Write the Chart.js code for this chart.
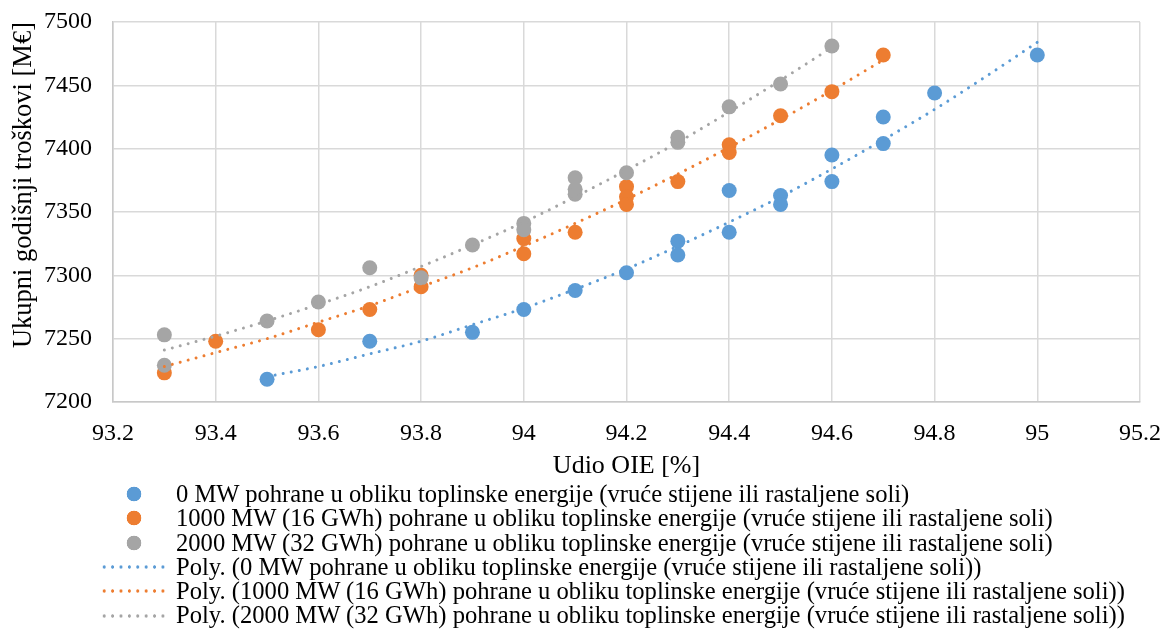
<!DOCTYPE html>
<html>
<head>
<meta charset="utf-8">
<script src="https://cdn.jsdelivr.net/npm/chart.js@4"></script>
<style>
  body { margin: 0; background: #fff; }
  #wrap { position: relative; width: 1164px; height: 629px; font-family: 'Liberation Serif', 'Times New Roman', serif; }
  #box { position: absolute; left: 0; top: 0; width: 1164px; height: 482px; }
  #legend { position: absolute; left: 100px; top: 482px; list-style: none; margin: 0; padding: 0; font-size: 24.6px; line-height: 24.3px; color: #000; }
  #legend li { display: flex; align-items: center; white-space: nowrap; height: 24.3px; }
  #legend .mk { display: inline-block; width: 68px; height: 24.3px; margin-right: 8px; }
</style>
</head>
<body>
<div id="wrap">
  <div id="box"><canvas id="chart"></canvas></div>
  <ul id="legend"></ul>
</div>
<script>
// scatter points
let blueX = [93.5, 93.7, 93.9, 94.0, 94.1, 94.2, 94.3, 94.3, 94.4, 94.4, 94.5, 94.5, 94.6, 94.6, 94.7, 94.7, 94.8, 95.0];
let blueY = [7218, 7248, 7255, 7273, 7288, 7302, 7327, 7316, 7367, 7334, 7363, 7356, 7395, 7374, 7425, 7404, 7444, 7474];

let orangeX = [93.3, 93.4, 93.6, 93.7, 93.8, 93.8, 94.0, 94.0, 94.1, 94.2, 94.2, 94.2, 94.3, 94.4, 94.4, 94.5, 94.6, 94.7];
let orangeY = [7223, 7248, 7257, 7273, 7300, 7291, 7329, 7317, 7334, 7370, 7362, 7356, 7374, 7403, 7397, 7426, 7445, 7474];

let grayX = [93.3, 93.3, 93.5, 93.6, 93.7, 93.8, 93.9, 94.0, 94.0, 94.1, 94.1, 94.1, 94.2, 94.3, 94.3, 94.4, 94.5, 94.6];
let grayY = [7253, 7229, 7264, 7279, 7306, 7298, 7324, 7341, 7336, 7377, 7368, 7364, 7381, 7409, 7405, 7433, 7451, 7481];

// dotted poly trendlines
let blueTrendX = [93.5, 93.6, 93.7, 93.8, 93.9, 94.0, 94.1, 94.2, 94.3, 94.4, 94.5, 94.6, 94.7, 94.8, 94.9, 95.0];
let blueTrendY = [7220, 7228, 7238, 7248, 7261, 7274, 7289, 7305, 7323, 7342, 7362, 7384, 7407, 7431, 7457, 7484];

let orangeTrendX = [93.3, 93.4, 93.5, 93.6, 93.7, 93.8, 93.9, 94.0, 94.1, 94.2, 94.3, 94.4, 94.5, 94.6, 94.7];
let orangeTrendY = [7228, 7239, 7250, 7263, 7276, 7291, 7306, 7323, 7341, 7360, 7380, 7401, 7423, 7446, 7470];

let grayTrendX = [93.3, 93.4, 93.5, 93.6, 93.7, 93.8, 93.9, 94.0, 94.1, 94.2, 94.3, 94.4, 94.5, 94.6];
let grayTrendY = [7241, 7252, 7264, 7277, 7291, 7307, 7324, 7342, 7362, 7383, 7405, 7429, 7454, 7480];

let seriesNames = [
    "0 MW pohrane u obliku toplinske energije (vruće stijene ili rastaljene soli)",
    "1000 MW (16 GWh) pohrane u obliku toplinske energije (vruće stijene ili rastaljene soli)",
    "2000 MW (32 GWh) pohrane u obliku toplinske energije (vruće stijene ili rastaljene soli)"
];

let xTicks = [93.2, 93.4, 93.6, 93.8, 94.0, 94.2, 94.4, 94.6, 94.8, 95.0, 95.2];
let xTickLabels = ["93.2", "93.4", "93.6", "93.8", "94", "94.2", "94.4", "94.6", "94.8", "95", "95.2"];
let yTicks = [7200, 7250, 7300, 7350, 7400, 7450, 7500];
let yTickLabels = ["7200", "7250", "7300", "7350", "7400", "7450", "7500"];

let xTitle = "Udio OIE [%]";
let yTitle = "Ukupni godišnji troškovi [M€]";

let colors = ["#5B9BD5", "#ED7D31", "#A5A5A5"];
let serif = "'Liberation Serif', 'Times New Roman', serif";

function pairs(xs, ys) {
    return xs.map((x, i) => ({ x: x, y: ys[i] }));
}

function pointSet(i, xs, ys) {
    return {
        label: seriesNames[i],
        data: pairs(xs, ys),
        backgroundColor: colors[i],
        borderColor: colors[i],
        pointRadius: 7.5,
        pointBorderWidth: 0,
        showLine: false,
        order: 3 - i
    };
}

function trendSet(i, xs, ys) {
    return {
        label: "Poly. (" + seriesNames[i] + ")",
        data: pairs(xs, ys),
        borderColor: colors[i],
        backgroundColor: colors[i],
        borderWidth: 3,
        borderDash: [0.01, 8.2],
        borderCapStyle: "round",
        pointRadius: 0,
        showLine: true,
        cubicInterpolationMode: "monotone",
        order: 0
    };
}

let chart = new Chart(document.getElementById("chart"), {
    type: "scatter",
    data: {
        datasets: [
            pointSet(0, blueX, blueY),
            pointSet(1, orangeX, orangeY),
            pointSet(2, grayX, grayY),
            trendSet(0, blueTrendX, blueTrendY),
            trendSet(1, orangeTrendX, orangeTrendY),
            trendSet(2, grayTrendX, grayTrendY)
        ]
    },
    options: {
        responsive: true,
        maintainAspectRatio: false,
        animation: false,
        layout: { padding: { top: 22, right: 24, left: 0, bottom: 0 } },
        plugins: {
            legend: { display: false },
            tooltip: { enabled: false }
        },
        scales: {
            x: {
                type: "linear",
                min: 93.2,
                max: 95.2,
                afterBuildTicks: s => { s.ticks = xTicks.map(v => ({ value: v })); },
                afterFit: s => { s.height = 80; s.paddingLeft = 0; s.paddingRight = 0; },
                ticks: {
                    callback: (v, i) => xTickLabels[i],
                    autoSkip: false,
                    maxRotation: 0,
                    padding: 17,
                    color: "#000",
                    font: { family: serif, size: 24 }
                },
                grid: { color: "#d9d9d9", lineWidth: 1.5, drawTicks: false },
                border: { color: "#c8c8c8", width: 1.5 },
                title: {
                    display: true,
                    text: xTitle,
                    color: "#000",
                    font: { family: serif, size: 26 },
                    padding: { top: 4, bottom: 0 }
                }
            },
            y: {
                min: 7200,
                max: 7500,
                afterBuildTicks: s => { s.ticks = yTicks.map(v => ({ value: v })); },
                afterFit: s => { s.width = 113; s.paddingTop = 0; s.paddingBottom = 0; },
                ticks: {
                    callback: (v, i) => yTickLabels[i],
                    autoSkip: false,
                    padding: 21,
                    color: "#000",
                    font: { family: serif, size: 24 }
                },
                grid: { color: "#d9d9d9", lineWidth: 1.5, drawTicks: false },
                border: { color: "#c8c8c8", width: 1.5 },
                title: {
                    display: true,
                    text: yTitle,
                    align: "end",
                    color: "#000",
                    font: { family: serif, size: 26.5 },
                    padding: { top: 8, bottom: 0 }
                }
            }
        }
    }
});

function buildLegend(ch) {
    let ul = document.getElementById("legend");
    ch.data.datasets.forEach(ds => {
        let li = document.createElement("li");
        let mk = document.createElement("span");
        mk.className = "mk";
        if (ds.showLine) {
            mk.style.background = "radial-gradient(circle, " + ds.borderColor + " 1.4px, transparent 1.9px) 0 50% / 8.4px 6px repeat-x";
        } else {
            mk.style.background = "radial-gradient(circle, " + ds.backgroundColor + " 7px, transparent 7.6px) center / 16px 16px no-repeat";
        }
        let txt = document.createElement("span");
        txt.textContent = ds.label;
        li.appendChild(mk);
        li.appendChild(txt);
        ul.appendChild(li);
    });
}

buildLegend(chart);
</script>
</body>
</html>
